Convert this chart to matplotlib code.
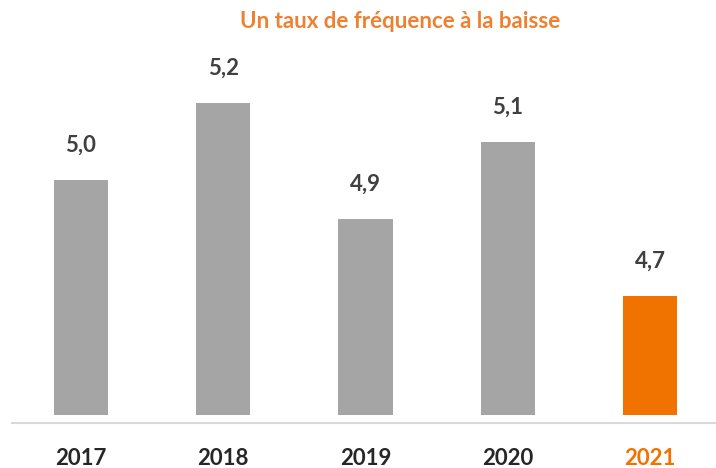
import matplotlib
matplotlib.use('Agg')
import matplotlib.pyplot as plt

years = ['2017', '2018', '2019', '2020', '2021']
taux = [5.0, 5.2, 4.9, 5.1, 4.7]

gray = '#A5A5A5'
orange = '#F07300'
title_orange = '#EF8030'

base = 4.39  # bars start here, axis is not zero-based

plt.rcParams['font.family'] = ['Lato', 'DejaVu Sans']

fig = plt.figure(figsize=(7.16, 4.68), dpi=100)
ax = fig.add_axes([12 / 716, 45 / 468, 704 / 716, 363 / 468])

x = list(range(len(years)))
colors = [gray] * (len(years) - 1) + [orange]
heights = [v - base for v in taux]
ax.bar(x, heights, bottom=base, width=0.38, color=colors)

for xi, v in zip(x, taux):
    ax.annotate("{:.1f}".format(v).replace('.', ','), (xi, v),
                xytext=(0, 25), textcoords='offset points',
                ha='center', va='center', fontsize=16, fontweight='bold',
                color='#404040')

ax.set_xlim(-0.485, 4.464)
ax.set_ylim(base - 8 / 385, base - 8 / 385 + 363 / 385)

ax.set_xticks(x)
ax.set_xticklabels(years, fontsize=16, fontweight='bold', color='#262626')
ax.get_xticklabels()[-1].set_color(orange)
ax.tick_params(axis='x', length=0, pad=18)
ax.set_yticks([])

for side in ['top', 'left', 'right']:
    ax.spines[side].set_visible(False)
ax.spines['bottom'].set_color('#D9D9D9')
ax.spines['bottom'].set_linewidth(1.5)

fig.text(400 / 716, 1 - 22 / 468, "Un taux de fréquence à la baisse",
         ha='center', va='center', fontsize=16, fontweight='bold',
         color=title_orange)

plt.savefig('out.png', dpi=100)
